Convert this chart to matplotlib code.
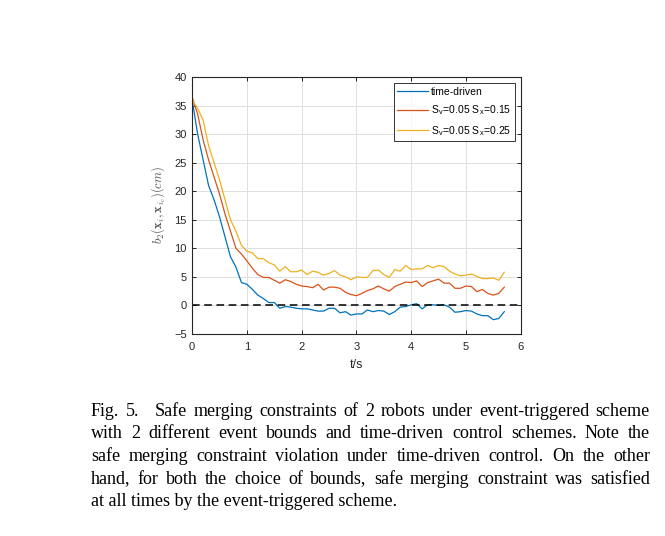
import numpy as np
import matplotlib.pyplot as plt

t = np.arange(58) * 0.1

time_driven = [36.0, 30.0, 25.5, 21.0, 18.5, 15.5, 12.0, 8.5, 6.7, 4.0,
               3.7, 2.8, 1.8, 1.2, 0.5, 0.5, -0.5, -0.2, -0.3, -0.5,
               -0.6, -0.6, -0.8, -1.0, -1.0, -0.5, -0.5, -1.3, -1.1, -1.7,
               -1.5, -1.5, -0.8, -1.1, -0.9, -1.0, -1.6, -1.1, -0.3, -0.2,
               0.1, 0.3, -0.6, 0.1, 0.1, 0.0, 0.1, -0.3, -1.2, -1.1,
               -0.9, -1.0, -1.5, -1.8, -1.8, -2.5, -2.3, -1.1]
sx_015 = [36.5, 33.5, 29.0, 25.5, 22.5, 19.5, 16.0, 13.0, 10.0, 9.0,
          7.8, 6.5, 5.4, 4.9, 4.9, 4.4, 3.9, 4.5, 4.2, 3.7,
          3.4, 3.3, 3.1, 3.7, 2.7, 3.2, 3.2, 3.0, 2.3, 1.9,
          1.7, 2.1, 2.6, 2.9, 3.4, 2.9, 2.5, 3.3, 3.7, 4.1,
          4.0, 4.3, 3.3, 4.0, 4.3, 4.6, 3.9, 3.9, 3.0, 3.0,
          3.4, 3.3, 2.4, 2.8, 2.1, 1.8, 2.1, 3.2]
sx_025 = [36.0, 34.5, 32.5, 28.0, 25.0, 22.0, 18.5, 15.0, 13.0, 10.5,
          9.5, 9.2, 8.2, 8.2, 7.5, 7.1, 6.0, 6.8, 5.9, 5.9,
          6.2, 5.4, 6.0, 5.8, 5.3, 5.6, 6.1, 5.3, 5.0, 4.5,
          5.0, 4.9, 4.9, 6.1, 6.2, 5.4, 4.9, 6.3, 6.0, 7.0,
          6.3, 6.4, 6.4, 7.0, 6.6, 7.0, 6.8, 6.0, 5.5, 5.2,
          5.3, 5.5, 5.1, 4.7, 4.7, 4.8, 4.4, 5.8]

labels = ['time-driven',
          r'S$_\mathregular{v}$=0.05 S$_\mathregular{x}$=0.15',
          r'S$_\mathregular{v}$=0.05 S$_\mathregular{x}$=0.25']
colors = ['#0072BD', '#D95319', '#EDB120']

caption = [
    "Fig. 5.   Safe merging constraints of 2 robots under event-triggered scheme",
    "with 2 different event bounds and time-driven control schemes. Note the",
    "safe merging constraint violation under time-driven control. On the other",
    "hand, for both the choice of bounds, safe merging constraint was satisfied",
    "at all times by the event-triggered scheme.",
]

plt.rcParams['font.family'] = ['Liberation Sans', 'DejaVu Sans']
plt.rcParams['mathtext.fontset'] = 'cm'

fig = plt.figure(figsize=(6.65, 5.36), dpi=100)
ax = fig.add_axes([0.289, 0.377, 0.494, 0.479])

for y, lab, c in zip([time_driven, sx_015, sx_025], labels, colors):
    ax.plot(t, y, color=c, linewidth=0.9, label=lab)
ax.plot([0, 6], [0, 0], 'k--', linewidth=1.1, dashes=(5, 3))

ax.set_xlim(0, 6)
ax.set_ylim(-5, 40)
ax.set_xticks(range(0, 7))
ax.set_yticks(range(-5, 41, 5))
ax.grid(True, color='#e0e0e0', linewidth=0.7)
ax.set_axisbelow(True)
ax.tick_params(direction='in', top=True, right=True, labelsize=8, length=3,
               width=0.7, colors='#262626', labelcolor='#262626')
ax.tick_params(axis='x', pad=6)
ax.tick_params(axis='y', pad=4)
for s in ax.spines.values():
    s.set_linewidth(0.8)
    s.set_color('#262626')
ax.set_xlabel('t/s', fontsize=9, labelpad=5, color='#262626')
ax.set_ylabel(r'$b_2(\mathbf{x}_i,\mathbf{x}_{i_c})(cm)$', fontsize=9,
              color='#555555', labelpad=4)

leg = ax.legend(loc='upper right', fontsize=7.5, frameon=True, fancybox=False,
                edgecolor='black', borderpad=0.35, handlelength=3.0,
                handletextpad=0.25, labelspacing=0.65, borderaxespad=0.55)
leg.get_frame().set_linewidth(0.7)

# caption, justified line by line
fig.canvas.draw()
renderer = fig.canvas.get_renderer()
x_left, x_right = 91, 650
base0 = 416
line_h = 22.5
for i, line in enumerate(caption):
    ypix = 536 - (base0 + i * line_h)
    if i == len(caption) - 1:
        fig.text(x_left / 665, ypix / 536, line, fontsize=13,
                 family='Liberation Serif', va='baseline')
        continue
    tokens = [w for w in line.split(' ') if w]
    arts = []
    widths = []
    for w in tokens:
        a = fig.text(0, ypix / 536, w, fontsize=13, family='Liberation Serif',
                     va='baseline')
        widths.append(a.get_window_extent(renderer).width)
        arts.append(a)
    weights = [1.0] * (len(tokens) - 1)
    if i == 0:
        weights[1] = 2.5
    gap = (x_right - x_left - sum(widths)) / sum(weights)
    x = x_left
    for k, a in enumerate(arts):
        a.set_x(x / 665)
        x += widths[k]
        if k < len(weights):
            x += gap * weights[k]

fig.savefig('out.png', dpi=100)
